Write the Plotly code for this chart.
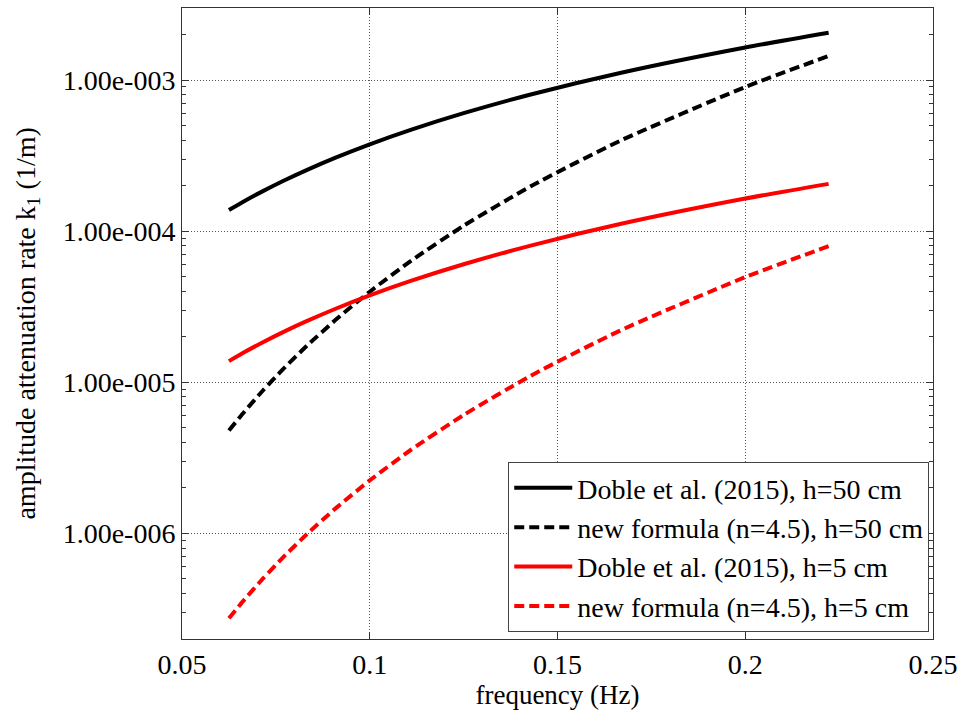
import plotly.graph_objects as go

# frequencies (Hz)
freq = [0.0625, 0.06667, 0.07143, 0.07692, 0.08333, 0.09091, 0.1, 0.1111,
        0.125, 0.14286, 0.16667, 0.2, 0.2222]

doble_h50 = [1.380e-4, 1.585e-4, 1.834e-4, 2.148e-4, 2.547e-4, 3.066e-4, 3.757e-4,
             4.70e-4, 6.04e-4, 8.03e-4, 1.115e-3, 1.644e-3, 2.057e-3]
new_h50 = [4.80e-6, 6.41e-6, 8.75e-6, 1.222e-5, 1.750e-5, 2.590e-5, 3.976e-5,
           6.39e-5, 1.086e-4, 1.981e-4, 3.963e-4, 8.995e-4, 1.445e-3]
doble_h5 = [1.380e-5, 1.585e-5, 1.834e-5, 2.148e-5, 2.547e-5, 3.066e-5, 3.757e-5,
            4.70e-5, 6.04e-5, 8.03e-5, 1.115e-4, 1.644e-4, 2.057e-4]
new_h5 = [2.74e-7, 3.66e-7, 4.98e-7, 6.94e-7, 9.92e-7, 1.464e-6, 2.241e-6,
          3.59e-6, 6.07e-6, 1.104e-5, 2.198e-5, 4.966e-5, 7.955e-5]

names = ["Doble et al. (2015), h=50 cm", "new formula (n=4.5), h=50 cm",
         "Doble et al. (2015), h=5 cm", "new formula (n=4.5), h=5 cm"]

ytick_vals = [1e-6, 1e-5, 1e-4, 1e-3]
ytick_text = ["1.00e-006", "1.00e-005", "1.00e-004", "1.00e-003"]
xtick_vals = [0.05, 0.1, 0.15, 0.2, 0.25]
xtick_text = ["0.05", "0.1", "0.15", "0.2", "0.25"]

minor_vals = [m * 10.0 ** e for e in range(-7, -2) for m in range(2, 10)]

FONT = "'Liberation Serif', 'Times New Roman', serif"

fig = go.Figure()
series = [(doble_h50, "black", "solid"), (new_h50, "black", "dash"),
          (doble_h5, "red", "solid"), (new_h5, "red", "dash")]
for (ys, col, dash), nm in zip(series, names):
    fig.add_trace(go.Scatter(
        x=freq, y=ys, mode="lines", name=nm,
        line=dict(color=col, width=4, shape="spline", smoothing=0.6,
                  dash=("10px,5px" if dash == "dash" else "solid")),
    ))

fig.update_layout(
    width=965, height=710,
    margin=dict(l=182, r=27, t=7, b=71),
    paper_bgcolor="white", plot_bgcolor="white",
    font=dict(family=FONT, size=28, color="black"),
    showlegend=True,
    legend=dict(
        x=0.995, y=0.011, xanchor="right", yanchor="bottom",
        bgcolor="white", bordercolor="#444", borderwidth=1,
        font=dict(family=FONT, size=28, color="black"),
        tracegroupgap=0, itemwidth=58,
    ),
    xaxis=dict(
        range=[0.05, 0.25], tickmode="array", tickvals=xtick_vals, ticktext=xtick_text,
        ticks="inside", ticklen=7, tickcolor="#333", showline=True, linecolor="#333",
        linewidth=1, mirror="ticks", showgrid=True, gridcolor="#555", griddash="1px,2px",
        gridwidth=1, zeroline=False,
        title=dict(text="frequency (Hz)", standoff=4, font=dict(size=27)),
        tickfont=dict(size=28),
    ),
    yaxis=dict(
        type="log", range=[-6.699, -2.523], tickmode="array", tickvals=ytick_vals,
        ticktext=ytick_text, ticks="inside", ticklen=7, tickcolor="#333",
        showline=True, linecolor="#333", linewidth=1, mirror="ticks",
        showgrid=True, gridcolor="#555", griddash="1px,2px", gridwidth=1, zeroline=False,
        minor=dict(tickmode="array", tickvals=minor_vals, ticks="inside", ticklen=4,
                   tickcolor="#333", showgrid=False),
        tickfont=dict(size=28),
    ),
    annotations=[dict(
        text="amplitude attenuation rate k<sub>1</sub> (1/m)",
        xref="paper", yref="paper", x=-0.2063, y=0.5,
        xanchor="center", yanchor="middle", textangle=-90, showarrow=False,
        font=dict(family=FONT, size=28, color="black"),
    )],
)

fig.write_html("out.html")
